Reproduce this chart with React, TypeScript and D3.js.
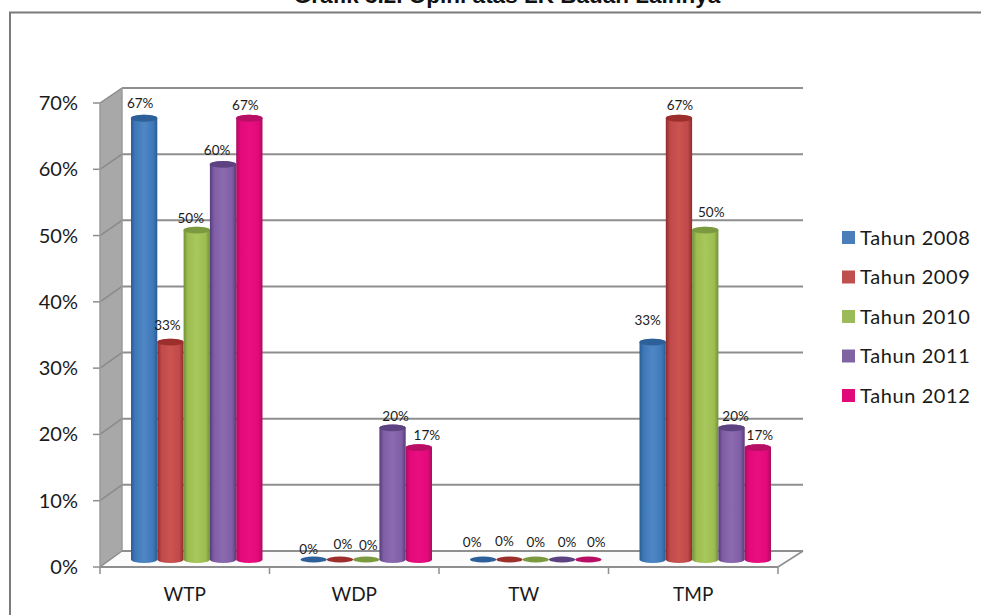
import React from "react";
import * as d3 from "d3";

const categories = ["WTP", "WDP", "TW", "TMP"];
const seriesNames = ["Tahun 2008", "Tahun 2009", "Tahun 2010", "Tahun 2011", "Tahun 2012"];
const values2008 = [67, 0, 0, 33];
const values2009 = [33, 0, 0, 67];
const values2010 = [50, 0, 0, 50];
const values2011 = [60, 20, 0, 20];
const values2012 = [67, 17, 0, 17];
const seriesValues = [values2008, values2009, values2010, values2011, values2012];
const yTicks = [0, 10, 20, 30, 40, 50, 60, 70];
const chartTitle = "Grafik 3.2. Opini atas LK Badan Lainnya";

// Cylinder shading per series: edge, body, highlight, cap
const palette = [
  { edge: "#2a5c95", body: "#3f78b8", light: "#4f87c6", cap: "#2d6098", key: "#4a7ebb" },
  { edge: "#8f2c2a", body: "#c0494a", light: "#cb5450", cap: "#9c2e2c", key: "#c0504d" },
  { edge: "#72903a", body: "#9dbd50", light: "#a8c75c", cap: "#7b9a40", key: "#9bbb59" },
  { edge: "#563c7b", body: "#7f5ea5", light: "#8b6bb0", cap: "#5d4281", key: "#8064a2" },
  { edge: "#ab0d60", body: "#e2097a", light: "#ea0f80", cap: "#b70f66", key: "#e00a7b" },
];

// Label nudges around each bar top, one row per series, one column per category
const labelDx = [
  [-4, -5, -11, -5],
  [-3, 3, -5, 1],
  [-6, 2, 0, 6],
  [-6, 3, 5, 4],
  [-4, 8, 8, 2],
];
const labelDy = [
  [-15, -10, -17, -22],
  [-17, -15, -18, -13],
  [-12, -14, -17, -18],
  [-14, -12, -17, -12],
  [-13, -12, -17, -12],
];

const sansFont = "Lato, 'Noto Sans', sans-serif";
const gridColor = "#8e8e8e";

const x0 = d3.scaleBand<string>().domain(categories).range([100, 778]);
const xSeries = d3.scaleBand<string>().domain(seriesNames).range([19, 150.5]);
const yFront = d3.scaleLinear().domain([0, 70]).range([567, 103]);
const yBack = d3.scaleLinear().domain([0, 70]).range([551, 88]);
const yBar = d3.scaleLinear().domain([0, 70]).range([559.5, 98.5]);

const backDx = 22;
const barDx = 12;
const capRy = 3.4;

function cylinderPath(x: number, w: number, top: number, base: number) {
  const rx = w / 2;
  return `M${x},${top}L${x},${base}A${rx},${capRy} 0 0 0 ${x + w},${base}L${x + w},${top}A${rx},${capRy} 0 0 0 ${x},${top}Z`;
}

export default function App() {
  const w = xSeries.bandwidth();
  return (
    <svg
      width={981}
      height={615}
      viewBox="0 0 981 615"
      style={{ position: "absolute", left: 0, top: 0, display: "block", background: "#fff" }}
    >
      <defs>
        {palette.map((p, i) => (
          <linearGradient key={i} id={`cyl-${i}`} x1="0" x2="1" y1="0" y2="0">
            <stop offset="0" stopColor={p.edge} />
            <stop offset="0.16" stopColor={p.body} />
            <stop offset="0.5" stopColor={p.light} />
            <stop offset="0.84" stopColor={p.body} />
            <stop offset="1" stopColor={p.edge} />
          </linearGradient>
        ))}
      </defs>

      <text
        x={507}
        y={3}
        textAnchor="middle"
        fontFamily="'Liberation Sans', Arial, sans-serif"
        fontWeight="bold"
        fontSize={22.5}
        fill="#111"
      >
        {chartTitle}
      </text>

      {/* Outer frame, open past the page's right and bottom edges */}
      <path d="M10,615V12.5H981" fill="none" stroke="#7b7b7b" strokeWidth={2} />

      {/* Left wall and floor of the 3-D box */}
      <polygon
        points={`100,${yFront(70)} ${100 + backDx},${yBack(70)} ${100 + backDx},${yBack(0)} 100,${yFront(0)}`}
        fill="#a8a8a8"
      />
      <polygon
        points={`100,${yFront(0)} ${100 + backDx},${yBack(0)} ${778 + 25},${yBack(0)} 778,${yFront(0)}`}
        fill="#fbfbfb"
      />

      {yTicks.map((t) => (
        <g key={t}>
          <line x1={100} x2={100 + backDx} y1={yFront(t)} y2={yBack(t)} stroke="#8a8a8a" strokeWidth={1.5} />
          <line x1={100 + backDx} x2={803} y1={yBack(t)} y2={yBack(t)} stroke={gridColor} strokeWidth={2} />
          <line x1={93} x2={100} y1={yFront(t)} y2={yFront(t)} stroke={gridColor} strokeWidth={1.5} />
          <text
            x={78}
            y={yFront(t)}
            dy="0.35em"
            textAnchor="end"
            fontFamily={sansFont}
            fontSize={20}
            fill="#1a1a1a"
          >
            {t}%
          </text>
        </g>
      ))}

      {/* Box outline: wall edges, floor front and right side */}
      <line x1={122} x2={122} y1={yBack(70)} y2={yBack(0)} stroke="#9a9a9a" strokeWidth={1.5} />
      <line x1={100} x2={100} y1={yFront(70)} y2={yFront(0)} stroke="#9a9a9a" strokeWidth={1.5} />
      <line x1={100} x2={778} y1={yFront(0)} y2={yFront(0)} stroke={gridColor} strokeWidth={2} />
      <line x1={778} x2={803} y1={yFront(0)} y2={yBack(0)} stroke={gridColor} strokeWidth={1.5} />

      {[...categories.map((c) => x0(c) as number), 778].map((x) => (
        <line key={x} x1={x} x2={x} y1={yFront(0)} y2={yFront(0) + 7} stroke={gridColor} strokeWidth={1.5} />
      ))}

      {categories.map((c) => (
        <text
          key={c}
          x={(x0(c) as number) + x0.bandwidth() / 2}
          y={594}
          dy="0.35em"
          textAnchor="middle"
          fontFamily={sansFont}
          fontSize={19}
          fill="#1a1a1a"
        >
          {c}
        </text>
      ))}

      {/* Cylinders, drawn left to right so each one overlaps the previous */}
      {categories.map((c, ci) =>
        seriesNames.map((s, si) => {
          const v = seriesValues[si][ci];
          const x = (x0(c) as number) + (xSeries(s) as number) + barDx;
          const top = yBar(v);
          const base = yBar(0);
          const p = palette[si];
          return (
            <g key={`${c}-${s}`}>
              {v > 0 ? (
                <>
                  <path d={cylinderPath(x, w, top, base)} fill={`url(#cyl-${si})`} />
                  <ellipse cx={x + w / 2} cy={top} rx={w / 2} ry={capRy} fill={p.cap} />
                </>
              ) : (
                <ellipse cx={x + w / 2} cy={base} rx={w / 2} ry={3} fill={p.cap} />
              )}
            </g>
          );
        })
      )}

      {/* Value labels above the cylinders */}
      {categories.map((c, ci) =>
        seriesNames.map((s, si) => {
          const v = seriesValues[si][ci];
          const x = (x0(c) as number) + (xSeries(s) as number) + barDx + w / 2;
          return (
            <text
              key={`${c}-${s}-label`}
              x={x + labelDx[si][ci]}
              y={yBar(v) + labelDy[si][ci]}
              dy="0.35em"
              textAnchor="middle"
              fontFamily={sansFont}
              fontSize={13.5}
              fill="#1a1a1a"
            >
              {v}%
            </text>
          );
        })
      )}

      {/* Legend */}
      {seriesNames.map((s, i) => {
        const y = 237.5 + i * 39.5;
        return (
          <g key={s}>
            <rect x={842} y={y - 6.5} width={13} height={13} fill={palette[i].key} />
            <text
              x={860}
              y={y}
              dy="0.35em"
              fontFamily={sansFont}
              fontSize={20}
              letterSpacing={0.6}
              fill="#1a1a1a"
            >
              {s}
            </text>
          </g>
        );
      })}
    </svg>
  );
}
